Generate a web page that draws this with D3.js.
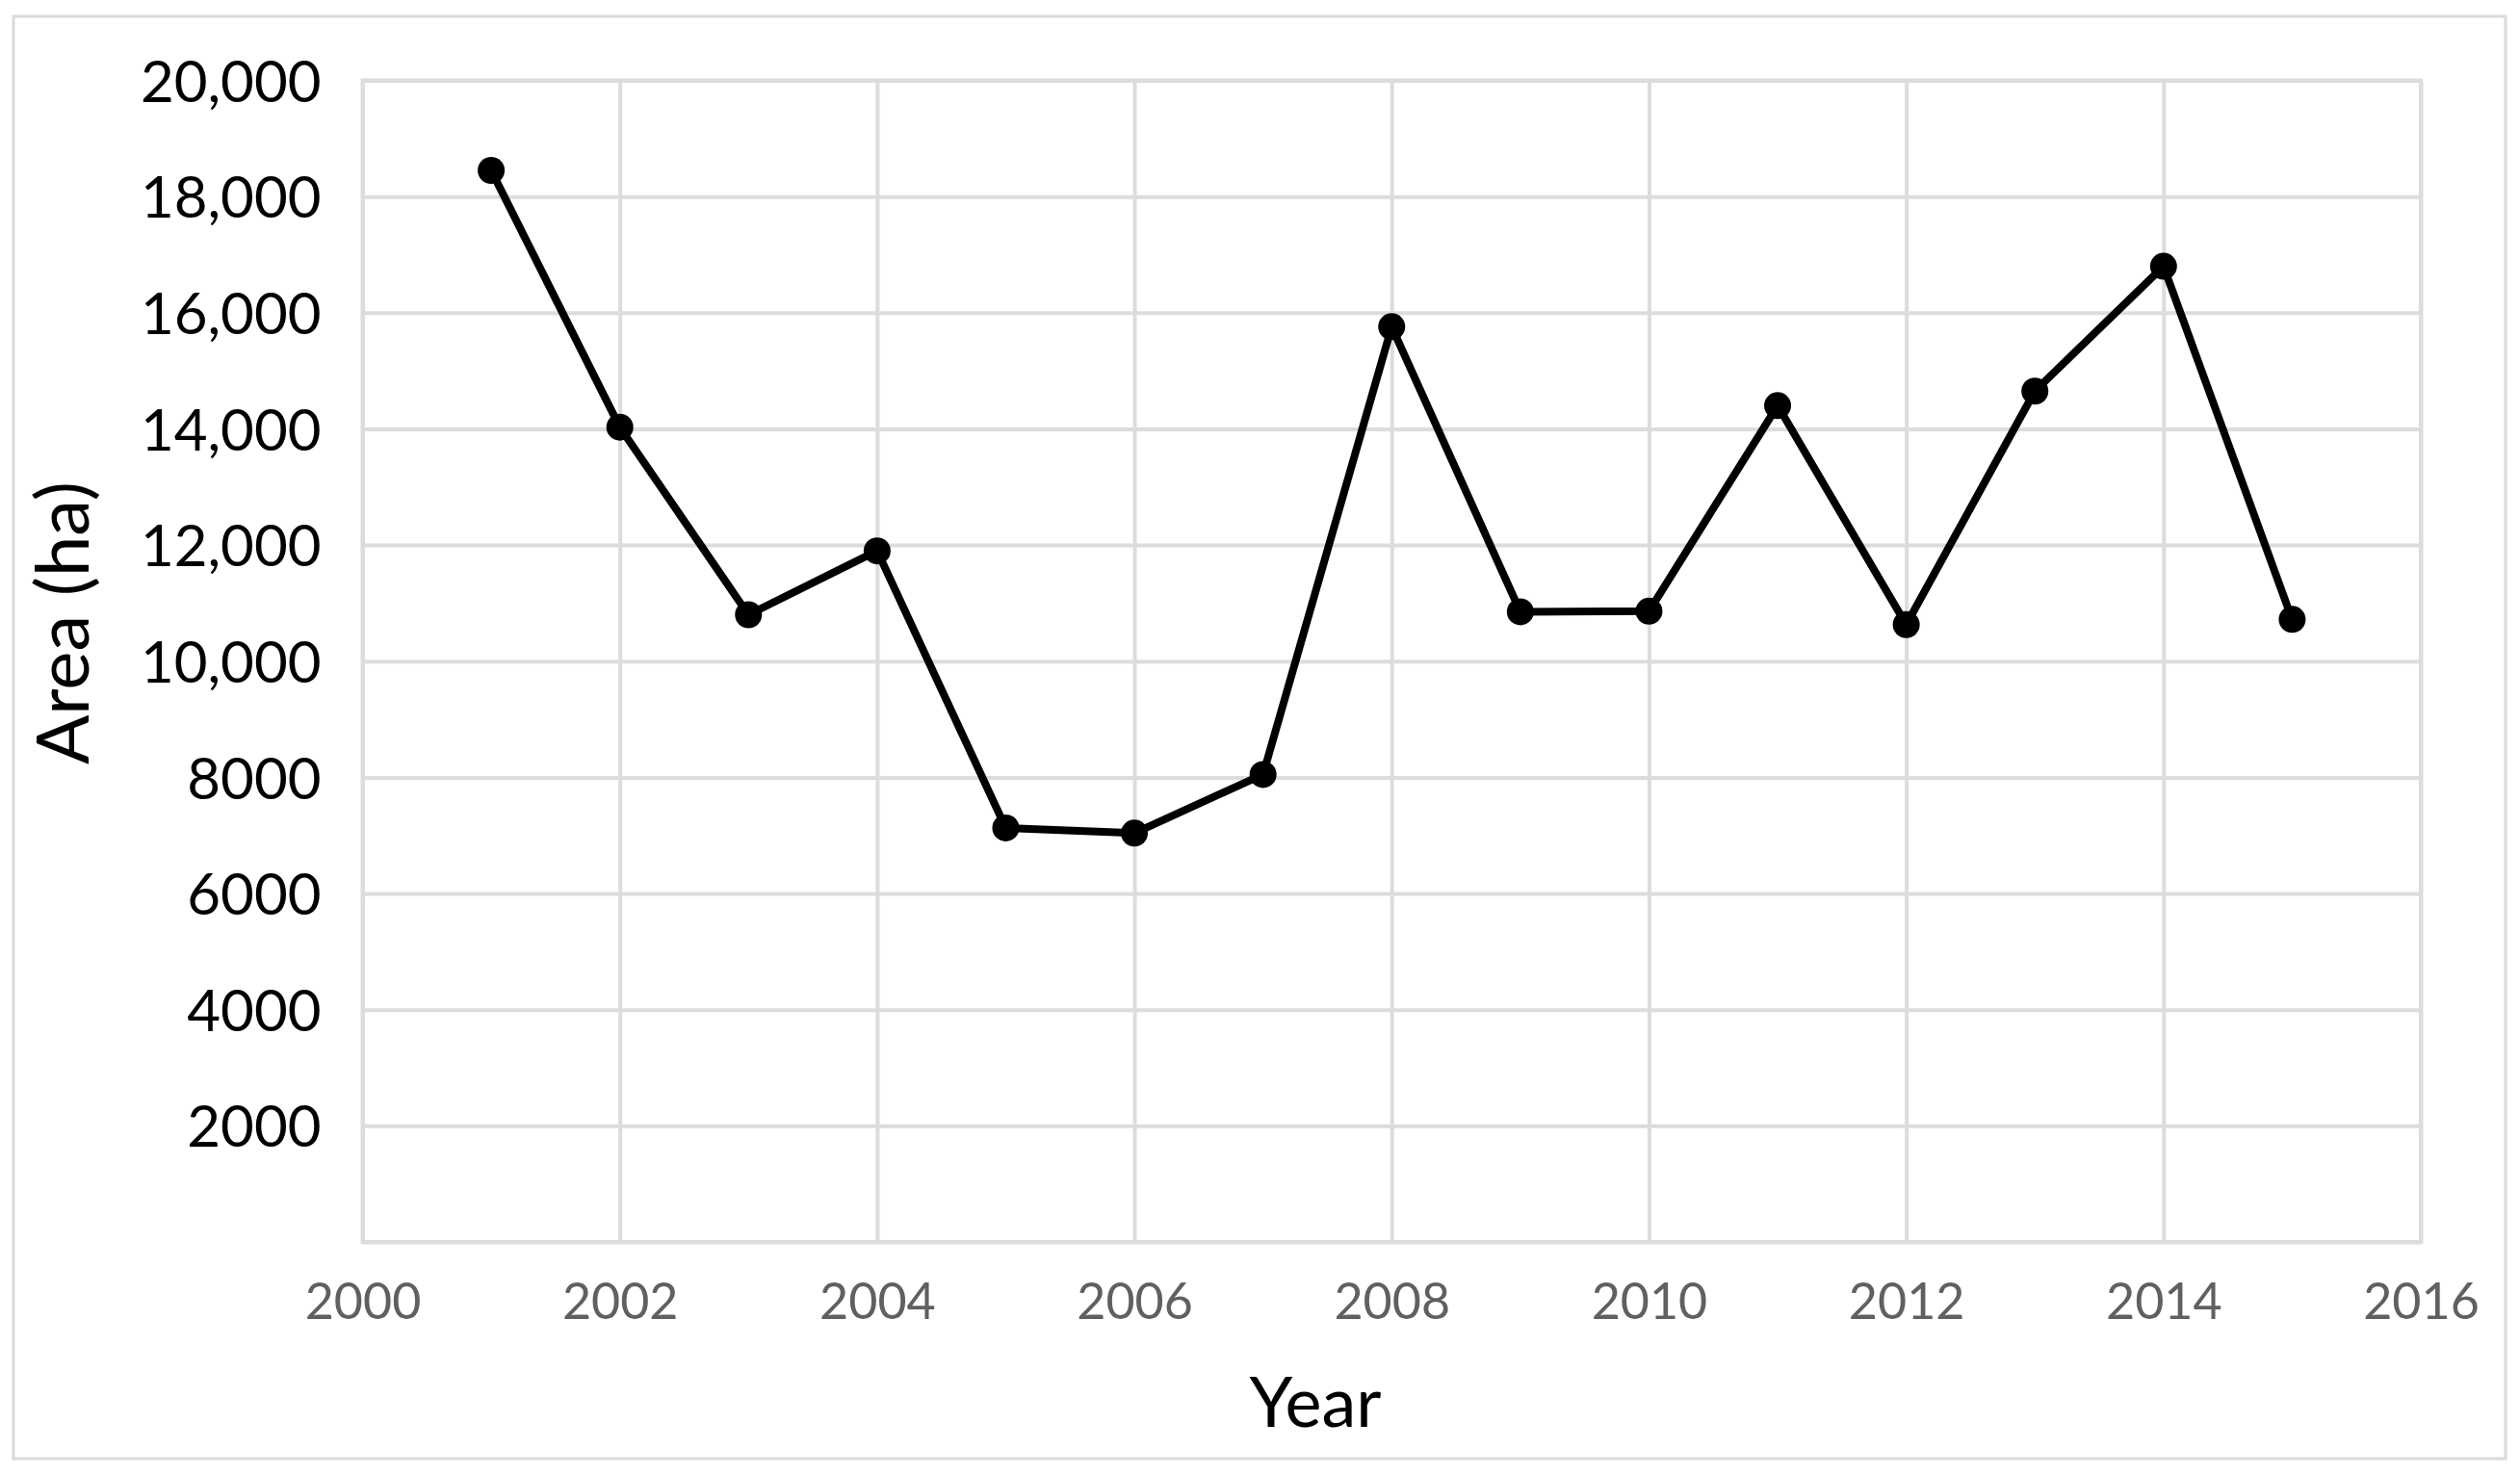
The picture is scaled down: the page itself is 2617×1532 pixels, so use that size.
<!DOCTYPE html>
<html>
<head>
<meta charset="utf-8">
<script src="https://cdn.jsdelivr.net/npm/d3@7"></script>
<style>
  html, body { margin: 0; padding: 0; background: #fff; }
  svg { display: block; }
</style>
</head>
<body>
<script>
// data
const years = [2001, 2002, 2003, 2004, 2005, 2006, 2007, 2008, 2009, 2010, 2011, 2012, 2013, 2014, 2015];
const area = [18450, 14030, 10800, 11900, 7130, 7040, 8050, 15760, 10850, 10860, 14400, 10630, 14650, 16800, 10720];
const xTicks = [2000, 2002, 2004, 2006, 2008, 2010, 2012, 2014, 2016];
const yTicks = [0, 2000, 4000, 6000, 8000, 10000, 12000, 14000, 16000, 18000, 20000];

const width = 2617, height = 1532;
const margin = { top: 83.5, right: 103, bottom: 242, left: 376.5 };
const plotW = width - margin.left - margin.right;
const plotH = height - margin.top - margin.bottom;
const font = "Lato, Carlito, Calibri, 'Open Sans', sans-serif";
const gridColor = "#dcdcdc";

const svg = d3.select("body").append("svg")
    .attr("width", width)
    .attr("height", height);

// outer chart border
svg.append("rect")
    .attr("x", 14).attr("y", 17)
    .attr("width", 2588).attr("height", 1498)
    .attr("fill", "#fff")
    .attr("stroke", "#d9d9d9")
    .attr("stroke-width", 3);

const g = svg.append("g")
    .attr("transform", `translate(${margin.left},${margin.top})`);

const x = d3.scaleLinear().domain([2000, 2016]).range([0, plotW]);
const y = d3.scaleLinear().domain([0, 20000]).range([plotH, 0]);

const yFmt = d => d === 0 ? "" : (d >= 10000 ? d3.format(",")(d) : String(d));

// y axis with horizontal gridlines
const yAxis = g.append("g")
    .call(d3.axisLeft(y).tickValues(yTicks).tickSize(-plotW).tickPadding(43).tickFormat(yFmt));
yAxis.select(".domain").remove();
yAxis.selectAll("line").attr("stroke", gridColor).attr("stroke-width", 4);
yAxis.selectAll("text")
    .attr("font-family", font)
    .attr("font-size", 60)
    .attr("fill", "#000")
    .attr("dy", "0.36em");

// x axis with vertical gridlines
const xAxis = g.append("g")
    .attr("transform", `translate(0,${plotH})`)
    .call(d3.axisBottom(x).tickValues(xTicks).tickSize(-plotH).tickPadding(43).tickFormat(d3.format("d")));
xAxis.select(".domain").remove();
xAxis.selectAll("line").attr("stroke", gridColor).attr("stroke-width", 4);
xAxis.selectAll("text")
    .attr("font-family", font)
    .attr("font-size", 52)
    .attr("fill", "#606060");

// plot frame
g.append("rect")
    .attr("width", plotW).attr("height", plotH)
    .attr("fill", "none")
    .attr("stroke", gridColor)
    .attr("stroke-width", 4);

const points = years.map((yr, i) => ({ year: yr, value: area[i] }));

g.append("path")
    .datum(points)
    .attr("fill", "none")
    .attr("stroke", "#000")
    .attr("stroke-width", 8)
    .attr("stroke-linejoin", "round")
    .attr("d", d3.line().x(d => x(d.year)).y(d => y(d.value)));

g.selectAll("circle.pt")
    .data(points)
    .enter().append("circle")
    .attr("class", "pt")
    .attr("cx", d => x(d.year))
    .attr("cy", d => y(d.value))
    .attr("r", 14)
    .attr("fill", "#000");

// axis titles
svg.append("text")
    .attr("x", 1366).attr("y", 1482)
    .attr("text-anchor", "middle")
    .attr("font-family", font)
    .attr("font-size", 72)
    .attr("fill", "#000")
    .text("Year");

svg.append("text")
    .attr("transform", "translate(92,647) rotate(-90)")
    .attr("text-anchor", "middle")
    .attr("font-family", font)
    .attr("font-size", 76)
    .attr("fill", "#000")
    .text("Area (ha)");
</script>
</body>
</html>
